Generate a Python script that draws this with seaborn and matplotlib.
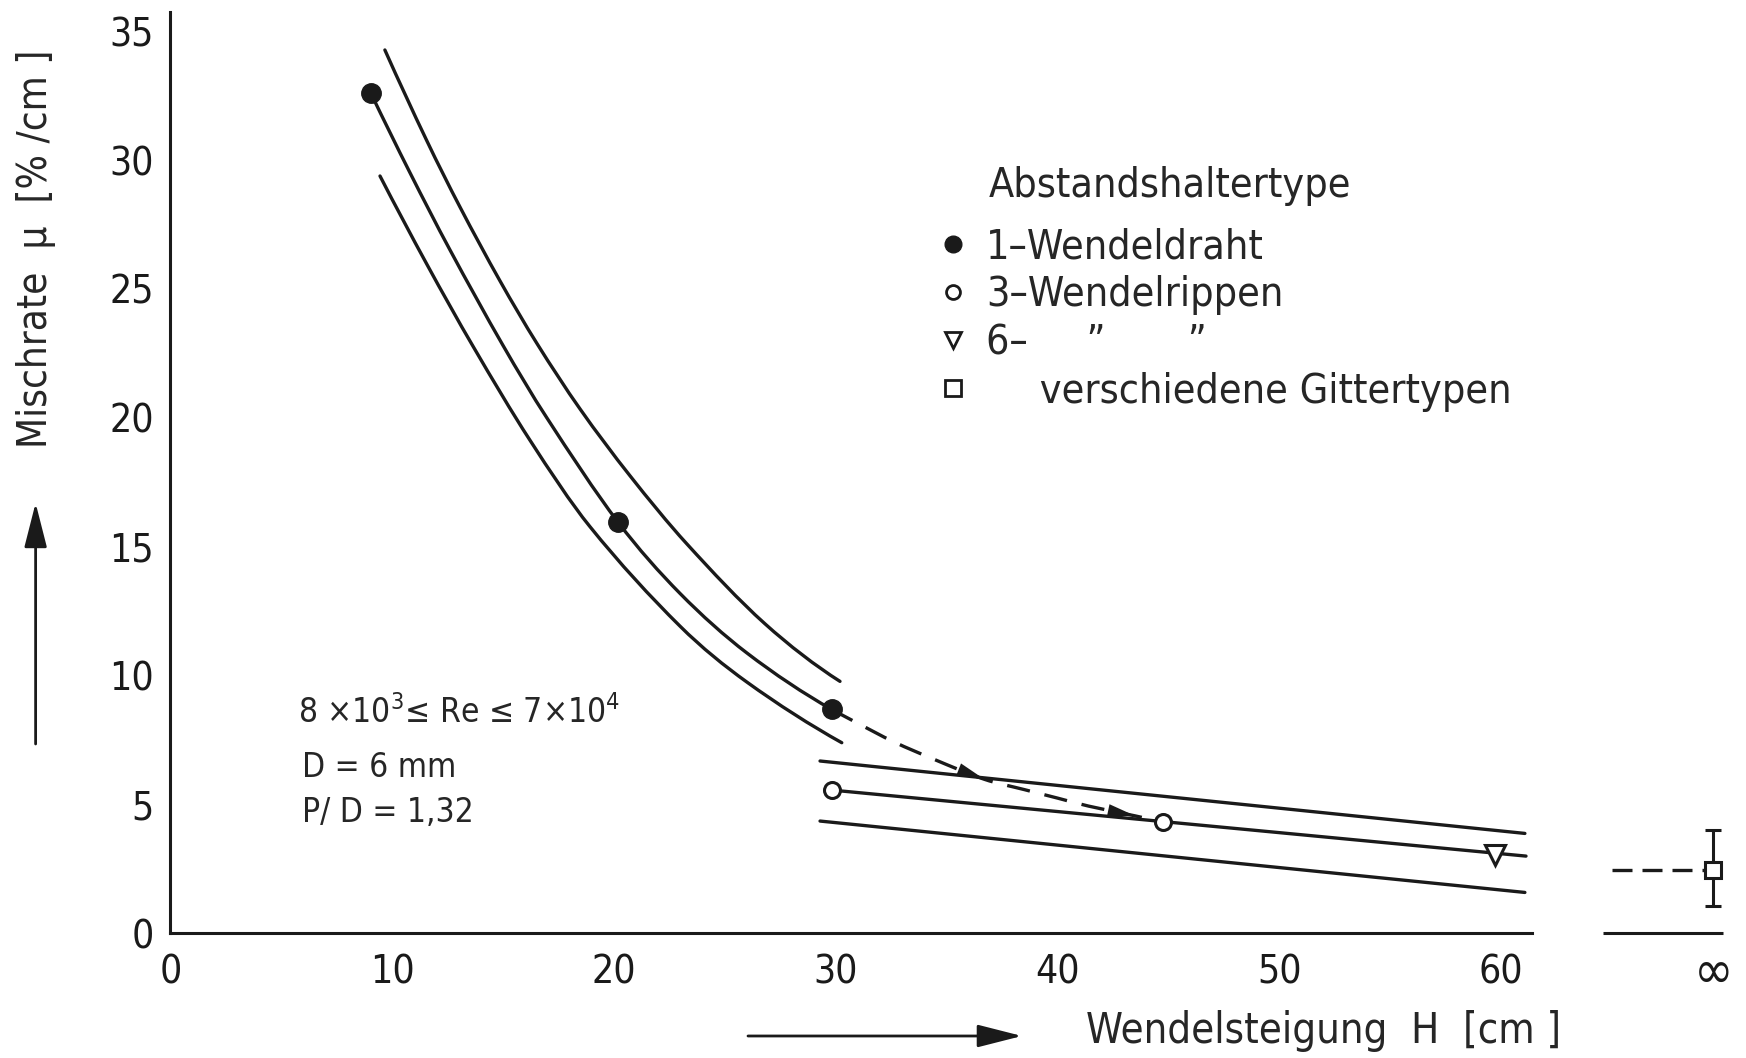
import matplotlib
matplotlib.use("Agg")
import matplotlib.pyplot as plt
from matplotlib.lines import Line2D
from matplotlib.path import Path
from matplotlib.patches import PathPatch
from matplotlib.transforms import ScaledTranslation
import seaborn as sns

sns.set_theme(style="white")
plt.rcParams['font.family'] = ['DejaVu Sans']
plt.rcParams['font.stretch'] = 'condensed'
plt.rcParams['mathtext.fontset'] = 'dejavusans'

# ---------------- data ----------------
INF_X = 69.56            # position used for "infinity" on the x axis

# 1-Wendeldraht: measured points and band
draht_x = [9.04, 20.19, 29.82]
draht_y = [32.59, 15.94, 8.68]
draht_mid_x = [9.04, 10.8, 12.6, 15.0, 16.97, 20.19, 22.98, 25.98, 29.82]
draht_mid_y = [32.59, 29.51, 26.52, 22.8, 20.0, 15.94, 13.18, 10.88, 8.68]
draht_up_x = [9.67, 11.56, 13.06, 14.86, 16.52, 18.47, 20.72, 23.28, 26.8, 30.19]
draht_up_y = [34.27, 30.75, 28.17, 25.31, 22.89, 20.34, 17.75, 15.11, 12.01, 9.77]
draht_lo_x = [9.45, 11.56, 13.66, 16.21, 18.92, 22.98, 25.98, 30.27]
draht_lo_y = [29.38, 25.96, 22.75, 19.13, 15.77, 11.91, 9.75, 7.39]

# dashed transition 1-Wendeldraht -> 3-Wendelrippen
trans_x = [29.82, 31.0, 32.6, 34.5, 36.7, 38.5, 40.0, 41.4, 43.5, 44.77]
trans_y = [8.68, 8.14, 7.43, 6.72, 5.97, 5.57, 5.24, 4.93, 4.55, 4.30]

# 3-/6-Wendelrippen: points and straight band
rip3_x = [29.84, 44.77]
rip3_y = [5.55, 4.30]
rip6_x = [59.73]
rip6_y = [3.05]
rip_mid_x, rip_mid_y = [29.84, 61.12], [5.55, 2.99]
rip_up_x, rip_up_y = [29.29, 61.07], [6.68, 3.87]
rip_lo_x, rip_lo_y = [29.29, 61.07], [4.35, 1.58]

# verschiedene Gittertypen (H -> infinity)
gitter_y = 2.47
gitter_err = [[1.42], [1.53]]
gitter_dash_x = [64.98, INF_X]

x_ticks = [0, 10, 20, 30, 40, 50, 60, INF_X]
x_labels = ['0', '10', '20', '30', '40', '50', '60', '∞']
y_ticks = [0, 5, 10, 15, 20, 25, 30, 35]
break_axis = [64.6, 70.0]


def smooth_path(xs, ys):
    # Bezier pen stroke through the read points (Hermite tangents from neighbours)
    n = len(xs)
    m = []
    for i in range(n):
        a, b = max(i - 1, 0), min(i + 1, n - 1)
        m.append((ys[b] - ys[a]) / (xs[b] - xs[a]))
    # end tangents continue the bend instead of flattening it
    m[0] = 2 * (ys[1] - ys[0]) / (xs[1] - xs[0]) - m[1]
    m[-1] = 2 * (ys[-1] - ys[-2]) / (xs[-1] - xs[-2]) - m[-2]
    verts, codes = [(xs[0], ys[0])], [Path.MOVETO]
    for i in range(n - 1):
        h = (xs[i + 1] - xs[i]) / 3
        verts += [(xs[i] + h, ys[i] + m[i] * h),
                  (xs[i + 1] - h, ys[i + 1] - m[i + 1] * h),
                  (xs[i + 1], ys[i + 1])]
        codes += [Path.CURVE4] * 3
    return Path(verts, codes)


# ---------------- figure ----------------
fig = plt.figure(figsize=(17.46, 10.58), dpi=100)
ax = fig.add_axes([0.0976, 0.1180, 0.9019, 0.8769])
ax.set_xlim(0, 71)
ax.set_ylim(0, 36)

LW = 2.4
for xs, ys in [(draht_mid_x, draht_mid_y), (draht_up_x, draht_up_y),
               (draht_lo_x, draht_lo_y)]:
    ax.add_patch(PathPatch(smooth_path(xs, ys), fill=False, ec='k', lw=LW,
                           capstyle='round'))
ax.add_patch(PathPatch(smooth_path(trans_x, trans_y), fill=False, ec='k',
                       lw=LW, ls=(0, (7, 4.5))))

for xs, ys in [(rip_mid_x, rip_mid_y), (rip_up_x, rip_up_y),
               (rip_lo_x, rip_lo_y)]:
    sns.lineplot(x=xs, y=ys, ax=ax, color='k', lw=LW, sort=False,
                 estimator=None)

ax.plot(gitter_dash_x, [gitter_y] * 2, color='k', lw=LW, dashes=(6, 3))

# little arrow heads on the dashed transition
for i in (4, 8):
    ax.annotate('', xy=(trans_x[i], trans_y[i]),
                xytext=(trans_x[i - 1], trans_y[i - 1]),
                arrowprops=dict(arrowstyle='-|>,head_length=0.9,head_width=0.2',
                                color='k', lw=0.01, mutation_scale=22,
                                shrinkA=0, shrinkB=0))

# markers
ax.plot(draht_x, draht_y, 'o', color='k', ms=14, zorder=5)
ax.plot(rip3_x, rip3_y, 'o', mfc='white', mec='k', mew=2.2, ms=11.5, zorder=5)
ax.plot(rip6_x, rip6_y, 'v', mfc='white', mec='k', mew=2.2, ms=15, zorder=5)
ax.errorbar([INF_X], [gitter_y], yerr=gitter_err, fmt='s', mfc='white',
            mec='k', mew=2.2, ms=12, ecolor='k', elinewidth=2.2,
            capsize=6, capthick=2.2, zorder=5)

# axes styling
for s in ['top', 'right']:
    ax.spines[s].set_visible(False)
for s in ['left', 'bottom']:
    ax.spines[s].set_linewidth(2.2)
    ax.spines[s].set_color('k')
ax.spines['left'].set_bounds(0, 35.75)
ax.spines['bottom'].set_bounds(0, 61.4)
ax.plot(break_axis, [0, 0], color='k', lw=2.2, clip_on=False,
        solid_capstyle='butt')

ax.set_xticks(x_ticks)
ax.set_xticklabels(x_labels)
ax.set_yticks(y_ticks)
ax.tick_params(axis='both', direction='out', length=7, width=1.8,
               colors='k', labelsize=28)
ax.tick_params(axis='x', pad=8)
ax.tick_params(axis='y', pad=5)
inf_label = ax.xaxis.get_major_ticks()[-1].label1
inf_label.set_fontsize(38)
inf_label.set_transform(inf_label.get_transform()
                        + ScaledTranslation(0, 5 / 72, fig.dpi_scale_trans))
ax.grid(False)

# legend
handles = [
    Line2D([], [], marker='o', ls='none', color='k', ms=12),
    Line2D([], [], marker='o', ls='none', mfc='white', mec='k', mew=2, ms=10),
    Line2D([], [], marker='v', ls='none', mfc='white', mec='k', mew=2, ms=12),
    Line2D([], [], marker='s', ls='none', mfc='white', mec='k', mew=2, ms=11),
]
labels = ['1–Wendeldraht',
          '3–Wendelrippen',
          '6–     \u201d       \u201d',
          '\u2007\u2002 verschiedene Gittertypen']
ax.legend(handles, labels, loc='upper left', bbox_to_anchor=(34.41, 27.4),
          bbox_transform=ax.transData, frameon=False, fontsize=29.5,
          handlelength=0.95, handletextpad=0.33, labelspacing=0.2,
          borderpad=0, borderaxespad=0)
ax.text(36.9, 29.0, 'Abstandshaltertype', fontsize=29.5, va='center',
        ha='left')

# conditions
ax.text(5.75, 8.15, '8 ×10$^3$≤ Re ≤ 7×10$^4$', fontsize=24, va='baseline')
ax.text(5.95, 6.06, 'D = 6 mm', fontsize=24, va='baseline')
ax.text(5.95, 4.31, 'P/ D = 1,32', fontsize=24, va='baseline')

# axis titles with arrows
fig.text(0.0204, 0.7647, 'Mischrate  µ  [% /cm ]', rotation=90,
         ha='center', va='center', fontsize=29)
fig.text(0.622, 0.0255, 'Wendelsteigung  H  [cm ]', ha='left',
         va='center', fontsize=30)
arrow = dict(arrowstyle='-|>,head_length=1.1,head_width=0.28', color='k',
             lw=2, mutation_scale=25, shrinkA=0, shrinkB=0)
ax.annotate('', xy=(0.0204, 0.5246), xytext=(0.0204, 0.2968),
            xycoords='figure fraction', arrowprops=arrow)
ax.annotate('', xy=(0.5853, 0.0208), xytext=(0.4284, 0.0208),
            xycoords='figure fraction', arrowprops=arrow)

fig.savefig('out.png', dpi=100, facecolor='white')
